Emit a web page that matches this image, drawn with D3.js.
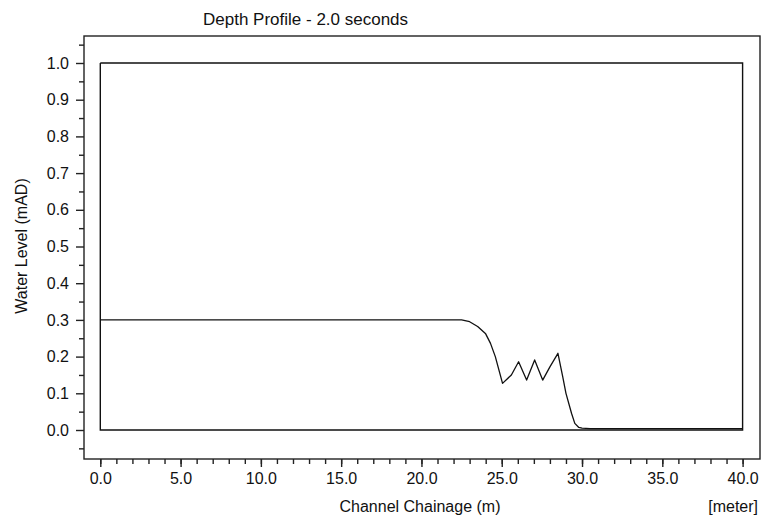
<!DOCTYPE html>
<html>
<head>
<meta charset="utf-8">
<script src="https://cdn.jsdelivr.net/npm/d3@7"></script>
<style>
  html, body { margin: 0; padding: 0; background: #ffffff; }
  svg { display: block; }
  text { font-family: Arial, "Liberation Sans", sans-serif; fill: #111; }
</style>
</head>
<body>
<svg id="chart" width="763" height="521"></svg>
<script>
// ---- data ----
const titleText = "Depth Profile - 2.0 seconds";
const xTitle = "Channel Chainage (m)";
const xUnit = "[meter]";
const yTitle = "Water Level (mAD)";

// channel bed / bank outline (chainage, level)
const bedChainage = [0, 0, 40, 40, 0];
const bedLevel    = [1.0, 0.0, 0.0, 1.0, 1.0];

// water surface at t = 2.0 s
const chainage = [
  0, 0.5, 1, 1.5, 2, 2.5, 3, 3.5, 4, 4.5, 5, 5.5, 6, 6.5, 7, 7.5, 8, 8.5, 9, 9.5,
  10, 10.5, 11, 11.5, 12, 12.5, 13, 13.5, 14, 14.5, 15, 15.5, 16, 16.5, 17, 17.5,
  18, 18.5, 19, 19.5, 20, 20.5, 21, 21.5, 22, 22.5,
  23.0, 23.5, 24.0, 24.3, 24.6, 25.05, 25.6, 26.05, 26.55, 27.05, 27.55, 28.0, 28.5,
  28.8, 29.0, 29.35, 29.55, 29.8, 30.0,
  30.5, 31, 31.5, 32, 32.5, 33, 33.5, 34, 34.5, 35, 35.5, 36, 36.5, 37, 37.5,
  38, 38.5, 39, 39.5, 40
];
const level = [
  0.3, 0.3, 0.3, 0.3, 0.3, 0.3, 0.3, 0.3, 0.3, 0.3, 0.3, 0.3, 0.3, 0.3, 0.3, 0.3, 0.3, 0.3, 0.3, 0.3,
  0.3, 0.3, 0.3, 0.3, 0.3, 0.3, 0.3, 0.3, 0.3, 0.3, 0.3, 0.3, 0.3, 0.3, 0.3, 0.3,
  0.3, 0.3, 0.3, 0.3, 0.3, 0.3, 0.3, 0.3, 0.3, 0.3,
  0.295, 0.282, 0.262, 0.236, 0.2, 0.127, 0.15, 0.186, 0.136, 0.191, 0.136, 0.172, 0.209,
  0.145, 0.1, 0.045, 0.018, 0.007, 0.005,
  0.004, 0.004, 0.004, 0.004, 0.004, 0.004, 0.004, 0.004, 0.004, 0.004, 0.004, 0.004, 0.004, 0.004, 0.004,
  0.004, 0.004, 0.004, 0.004, 0.004
];

const xMajor = [0, 5, 10, 15, 20, 25, 30, 35, 40];
const xMinor = d3.range(0, 41, 1);
const yMajor = [0.0, 0.1, 0.2, 0.3, 0.4, 0.5, 0.6, 0.7, 0.8, 0.9, 1.0];
const yMinor = [-0.05, 0.05, 0.15, 0.25, 0.35, 0.45, 0.55, 0.65, 0.75, 0.85, 0.95, 1.05];

// ---- layout ----
const svg = d3.select("#chart");
const frame = { left: 84, top: 36, right: 760, bottom: 459 };

const x = d3.scaleLinear().domain([0, 40]).range([100.3, 742.6]);
const y = d3.scaleLinear().domain([0, 1]).range([430, 63]);

// frame
svg.append("rect")
  .attr("x", frame.left).attr("y", frame.top)
  .attr("width", frame.right - frame.left).attr("height", frame.bottom - frame.top)
  .attr("fill", "none").attr("stroke", "#222").attr("stroke-width", 1.4);

// axes
const fmt = d3.format(".1f");
const xAxisMinor = d3.axisBottom(x).tickValues(xMinor).tickSize(5).tickFormat("");
const xAxisMajor = d3.axisBottom(x).tickValues(xMajor).tickSize(8).tickPadding(6).tickFormat(fmt);
const yAxisMinor = d3.axisLeft(y).tickValues(yMinor).tickSize(5).tickFormat("");
const yAxisMajor = d3.axisLeft(y).tickValues(yMajor).tickSize(8).tickPadding(7).tickFormat(fmt);

function styleAxis(g) {
  g.select(".domain").remove();
  g.selectAll(".tick line").attr("stroke", "#222").attr("stroke-width", 1.4);
  g.selectAll(".tick text").style("font-size", "16px").attr("fill", "#111");
}
svg.append("g").attr("transform", `translate(0,${frame.bottom})`).call(xAxisMinor).call(styleAxis);
svg.append("g").attr("transform", `translate(0,${frame.bottom})`).call(xAxisMajor).call(styleAxis);
svg.append("g").attr("transform", `translate(${frame.left},0)`).call(yAxisMinor).call(styleAxis);
svg.append("g").attr("transform", `translate(${frame.left},0)`).call(yAxisMajor).call(styleAxis);

// bed outline
const bed = bedChainage.map((c, i) => [c, bedLevel[i]]);
const line = d3.line().x(d => x(d[0])).y(d => y(d[1]));
svg.append("path").datum(bed).attr("d", line)
  .attr("fill", "none").attr("stroke", "#111").attr("stroke-width", 1.4);

// water surface
const ws = chainage.map((c, i) => [c, level[i]]);
svg.append("path").datum(ws).attr("d", line)
  .attr("fill", "none").attr("stroke", "#111").attr("stroke-width", 1.3)
  .attr("stroke-linejoin", "round");

// texts
svg.append("text").attr("x", 203).attr("y", 25).style("font-size", "17px").text(titleText);
svg.append("text").attr("x", 420).attr("y", 512).attr("text-anchor", "middle")
  .style("font-size", "16px").text(xTitle);
svg.append("text").attr("x", 758).attr("y", 512).attr("text-anchor", "end")
  .style("font-size", "16px").text(xUnit);
svg.append("text").attr("transform", "translate(27,246) rotate(-90)").attr("text-anchor", "middle")
  .style("font-size", "16px").text(yTitle);
</script>
</body>
</html>
